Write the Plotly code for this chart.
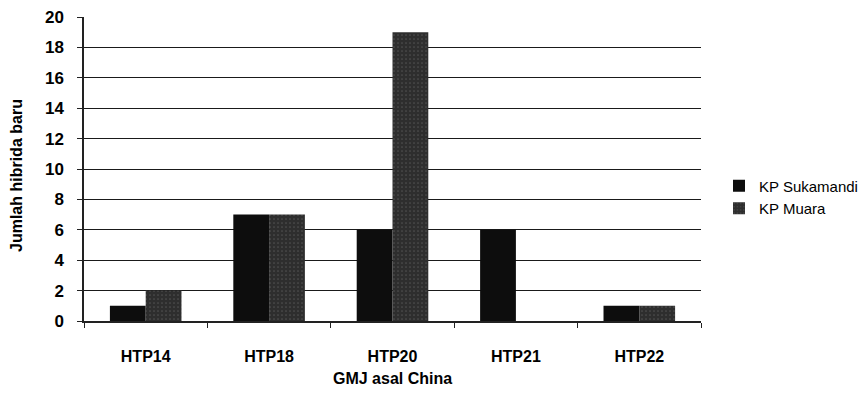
import plotly.graph_objects as go

categories = ["HTP14", "HTP18", "HTP20", "HTP21", "HTP22"]
sukamandi = [1, 7, 6, 6, 1]
muara = [2, 7, 19, 0, 1]
series_names = ["KP Sukamandi", "KP Muara"]
y_ticks = list(range(0, 21, 2))
x_title = "GMJ asal China"
y_title = "Jumlah hibrida baru"

W, H = 864, 405
L, R, T, B = 84, 163, 17, 84

fig = go.Figure()
fig.add_trace(go.Bar(x=categories, y=sukamandi, name=series_names[0],
                     marker=dict(color="#0d0d0d", line=dict(width=0))))
fig.add_trace(go.Bar(x=categories, y=muara, name=series_names[1],
                     marker=dict(color="#2e2e2e", line=dict(width=0),
                                 pattern=dict(shape=".", fgcolor="#707070", size=4, solidity=0.15))))

font_fam = "Liberation Sans, Arial"
plot_w = W - L - R
plot_h = H - T - B
fig.update_layout(
    width=W, height=H,
    margin=dict(l=L, r=R, t=T, b=B, autoexpand=False),
    paper_bgcolor="white", plot_bgcolor="white",
    barmode="group", bargap=0.42, bargroupgap=0,
    showlegend=True,
    legend=dict(x=(719 - L) / plot_w, y=(H - B - 197) / plot_h, yanchor="middle", xanchor="left",
                font=dict(family=font_fam, size=15, color="#000"),
                itemsizing="constant", itemwidth=30),
    xaxis=dict(
        automargin=False,
        tickfont=dict(family=font_fam, size=16, color="#000", weight="bold"),
        showline=True, linecolor="#222", linewidth=1.5,
        ticks="outside", tickson="boundaries", ticklen=5, tickcolor="#222",
        ticklabelstandoff=20,
        showgrid=False,
    ),
    yaxis=dict(
        automargin=False,
        tickfont=dict(family=font_fam, size=17, color="#000", weight="bold"),
        range=[0, 20], tickvals=y_ticks,
        showline=True, linecolor="#222", linewidth=1.5,
        ticks="outside", ticklen=5, tickcolor="#222",
        ticklabelstandoff=10,
        showgrid=True, gridcolor="#1a1a1a", gridwidth=1.2,
        zeroline=False,
    ),
    annotations=[
        dict(text="<b>" + x_title + "</b>", x=0.5, xref="paper",
             y=(H - B - 378) / plot_h, yref="paper", yanchor="middle",
             showarrow=False, font=dict(family=font_fam, size=16, color="#000")),
        dict(text="<b>" + y_title + "</b>", x=(16 - L) / plot_w, y=(H - B - 176) / plot_h,
             xref="paper", yref="paper", xanchor="center", yanchor="middle",
             showarrow=False, textangle=-90, font=dict(family=font_fam, size=16, color="#000")),
    ],
)
fig.write_html("out.html", config={"displayModeBar": False},
               post_script="document.body.style.margin='0';document.body.style.padding='0';")
